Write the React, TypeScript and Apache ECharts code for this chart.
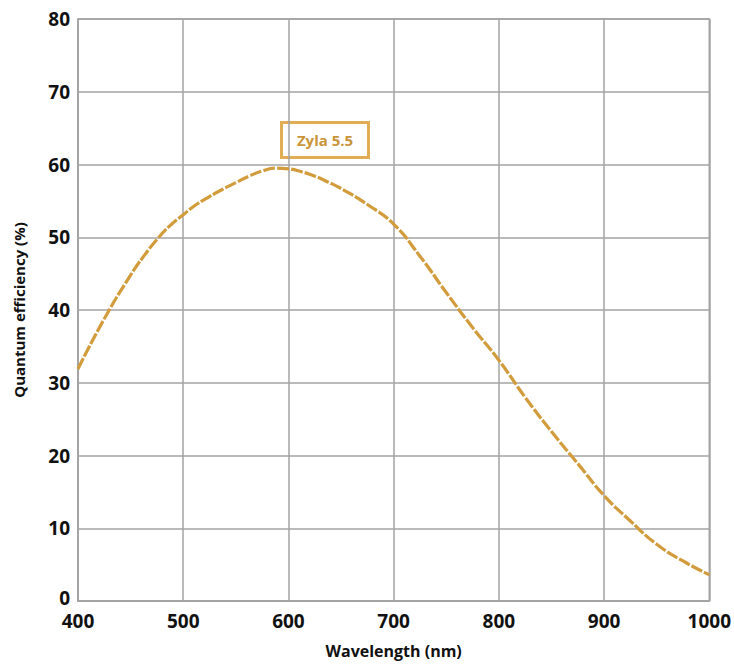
import React, { useEffect, useRef } from "react";
import * as echarts from "echarts";

const wavelengths = [400, 425, 450, 462.5, 475, 487.5, 500, 512.5, 525, 537.5, 550, 562.5, 575, 587.5, 600, 612.5, 625, 637.5, 650, 675, 700, 725, 750, 775, 800, 825, 850, 875, 900, 925, 950, 975, 1000];
const efficiency = [31.9, 38.8, 44.8, 47.4, 49.7, 51.6, 53.1, 54.5, 55.6, 56.6, 57.5, 58.4, 59.1, 59.5, 59.4, 59.0, 58.4, 57.6, 56.7, 54.5, 51.8, 47.4, 42.4, 37.6, 33.1, 28.0, 23.3, 18.9, 14.5, 11.0, 7.8, 5.5, 3.6];
const seriesLabel = "Zyla 5.5";
const xTitle = "Wavelength (nm)";
const yTitle = "Quantum efficiency (%)";

const FONT = "'Open Sans', 'DejaVu Sans', sans-serif";
const GRID = "#a3a3a3";
const CURVE = "#d29c3c";

export default function App() {
  const ref = useRef<HTMLDivElement>(null);
  useEffect(() => {
    if (!ref.current) return;
    const chart = echarts.init(ref.current, null, { renderer: "svg" });
    const labelFont = { fontFamily: FONT, fontWeight: "bold", fontSize: 19, color: "#111" };
    chart.setOption({
      animation: false,
      backgroundColor: "#ffffff",
      grid: {
        left: 78,
        right: 24,
        top: 19,
        bottom: 65,
        show: true,
        borderColor: GRID,
        borderWidth: 1.5,
      },
      xAxis: {
        type: "value",
        min: 400,
        max: 1000,
        interval: 100,
        name: xTitle,
        nameLocation: "middle",
        nameGap: 42,
        nameTextStyle: { fontFamily: FONT, fontWeight: "bold", fontSize: 16, color: "#111" },
        axisLine: { show: true, lineStyle: { color: GRID, width: 1.5 } },
        axisTick: { show: false },
        axisLabel: {
          ...labelFont,
          margin: 13,
          lineHeight: 14,
          formatter: (v: number) => String(v),
        },
        splitLine: { show: true, lineStyle: { color: GRID, width: 1.5 } },
      },
      yAxis: {
        type: "value",
        min: 0,
        max: 80,
        interval: 10,
        name: yTitle,
        nameLocation: "middle",
        nameGap: 52,
        nameTextStyle: { fontFamily: FONT, fontWeight: "bold", fontSize: 15, color: "#111" },
        axisLine: { show: true, lineStyle: { color: GRID, width: 1.5 } },
        axisTick: { show: false },
        axisLabel: {
          ...labelFont,
          margin: 8,
          lineHeight: 14,
          formatter: (v: number) => (v === 0 ? "{z|0}" : String(v)),
          rich: {
            z: { ...labelFont, lineHeight: 14, padding: [0, 0, 7, 0] },
          },
        },
        splitLine: { show: true, lineStyle: { color: GRID, width: 1.5 } },
      },
      series: [
        {
          type: "line",
          name: seriesLabel,
          data: wavelengths.map((w, i) => [w, efficiency[i]]),
          smooth: 0.5,
          showSymbol: false,
          lineStyle: { color: CURVE, width: 3.2, type: [12, 2] },
        },
      ],
      graphic: [
        {
          type: "group",
          left: 280,
          top: 121,
          children: [
            {
              type: "rect",
              shape: { x: 0, y: 0, width: 87, height: 35 },
              style: { fill: "#ffffff", stroke: "#e0ad55", lineWidth: 3 },
            },
            {
              type: "text",
              x: 43.5,
              y: 17.5,
              style: {
                text: seriesLabel,
                fontFamily: FONT,
                fontWeight: "bold",
                fontSize: 15,
                fill: "#c99538",
                align: "center",
                verticalAlign: "middle",
              },
            },
          ],
        },
      ],
    });
    return () => chart.dispose();
  }, []);
  return (
    <div
      ref={ref}
      style={{ position: "fixed", left: 0, top: 0, width: 734, height: 666 }}
    />
  );
}
